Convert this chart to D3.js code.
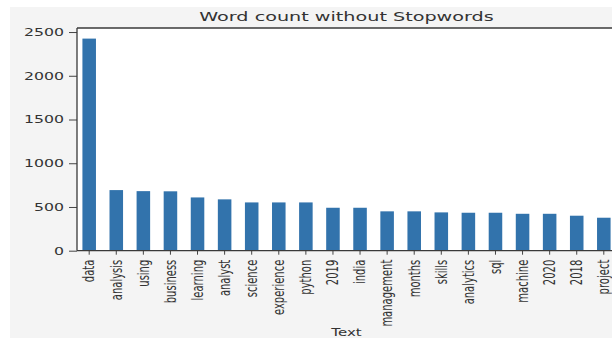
<!DOCTYPE html>
<html>
<head>
<meta charset="utf-8">
<script src="https://cdn.jsdelivr.net/npm/d3@7"></script>
<style>
  body { margin: 0; background: #fff; }
  svg { display: block; }
  text { font-family: "DejaVu Sans", sans-serif; fill: #333; }
</style>
</head>
<body>
<div id="chart"></div>
<script>
// top words and their counts
var words = ["data", "analysis", "using", "business", "learning", "analyst", "science",
  "experience", "python", "2019", "india", "management", "months", "skills",
  "analytics", "sql", "machine", "2020", "2018", "project"];
var counts = [2425, 693, 681, 679, 609, 587, 552, 552, 552, 491, 491, 450, 450, 438,
  434, 434, 422, 422, 400, 377];
var yTicks = [0, 500, 1000, 1500, 2000, 2500];

var svgWidth = 612;
var svgHeight = 341;

// plot area (right side runs past the edge of the frame)
var margin = { top: 28, left: 77 };
var plotRight = 616;
var plotBottom = 250.7;

// text is drawn wider than tall
var stretch = 1.5;

var svg = d3.select("#chart")
  .append("svg")
  .attr("width", svgWidth)
  .attr("height", svgHeight);

// figure background
svg.append("rect")
  .attr("x", 10)
  .attr("y", 7)
  .attr("width", svgWidth - 10)
  .attr("height", 331)
  .attr("fill", "#f4f4f4");

// axes background
svg.append("rect")
  .attr("x", margin.left)
  .attr("y", margin.top)
  .attr("width", plotRight - margin.left)
  .attr("height", plotBottom - margin.top)
  .attr("fill", "#ffffff");

var xBandScale = d3.scaleBand()
  .domain(words)
  .range([margin.left, plotRight])
  .paddingInner(0.5)
  .paddingOuter(0.2);

var yLinearScale = d3.scaleLinear()
  .domain([0, d3.max(counts) * 1.05])
  .range([plotBottom, margin.top]);

// bars
svg.selectAll("rect.bar")
  .data(words)
  .enter()
  .append("rect")
  .attr("class", "bar")
  .attr("x", d => xBandScale(d))
  .attr("width", xBandScale.bandwidth())
  .attr("y", (d, i) => yLinearScale(counts[i]))
  .attr("height", (d, i) => plotBottom - yLinearScale(counts[i]))
  .attr("fill", "#3273ac");

// y axis
var leftAxis = d3.axisLeft(yLinearScale)
  .tickValues(yTicks)
  .tickFormat(d3.format("d"))
  .tickSize(8)
  .tickPadding(5);

var yAxis = svg.append("g")
  .attr("transform", `translate(${margin.left}, 0)`)
  .call(leftAxis);

yAxis.select(".domain").remove();
yAxis.selectAll(".tick line").attr("stroke", "#444");
yAxis.selectAll(".tick text")
  .attr("font-size", 10.5)
  .attr("fill", "#333")
  .attr("font-family", "DejaVu Sans")
  .attr("transform", function() {
    var x = +d3.select(this).attr("x");
    return `translate(${x}, 0) scale(${stretch}, 1) translate(${-x}, 0)`;
  });

// x axis
var bottomAxis = d3.axisBottom(xBandScale)
  .tickSize(4)
  .tickSizeOuter(0);

var xAxis = svg.append("g")
  .attr("transform", `translate(0, ${plotBottom})`)
  .call(bottomAxis);

xAxis.select(".domain").remove();
xAxis.selectAll(".tick line").attr("stroke", "#444");
xAxis.selectAll(".tick text")
  .attr("font-size", 10)
  .attr("fill", "#333")
  .attr("font-family", "DejaVu Sans")
  .attr("y", 0)
  .attr("dy", null)
  .attr("x", 0)
  .attr("text-anchor", "end")
  .attr("dominant-baseline", "central")
  .attr("transform", `translate(0, 9) scale(${stretch}, 1) rotate(-90)`);

// spines
var spines = svg.append("g")
  .attr("stroke", "#3a3a3a")
  .attr("stroke-width", 1.3)
  .attr("fill", "none");

spines.append("line")
  .attr("x1", margin.left).attr("x2", margin.left)
  .attr("y1", margin.top).attr("y2", plotBottom);
spines.append("line")
  .attr("x1", margin.left).attr("x2", plotRight)
  .attr("y1", margin.top).attr("y2", margin.top);
spines.append("line")
  .attr("x1", margin.left).attr("x2", plotRight)
  .attr("y1", plotBottom).attr("y2", plotBottom);
spines.append("line")
  .attr("x1", plotRight).attr("x2", plotRight)
  .attr("y1", margin.top).attr("y2", plotBottom);

// title
var titleX = (margin.left + plotRight) / 2;
svg.append("text")
  .attr("transform", `translate(${titleX}, 20.5) scale(${stretch}, 1)`)
  .attr("text-anchor", "middle")
  .attr("font-size", 12.8)
  .attr("fill", "#333")
  .text("Word count without Stopwords");

// x axis label
svg.append("text")
  .attr("transform", `translate(${titleX}, 336) scale(${stretch}, 1)`)
  .attr("text-anchor", "middle")
  .attr("font-size", 10)
  .attr("fill", "#333")
  .text("Text");
</script>
</body>
</html>
